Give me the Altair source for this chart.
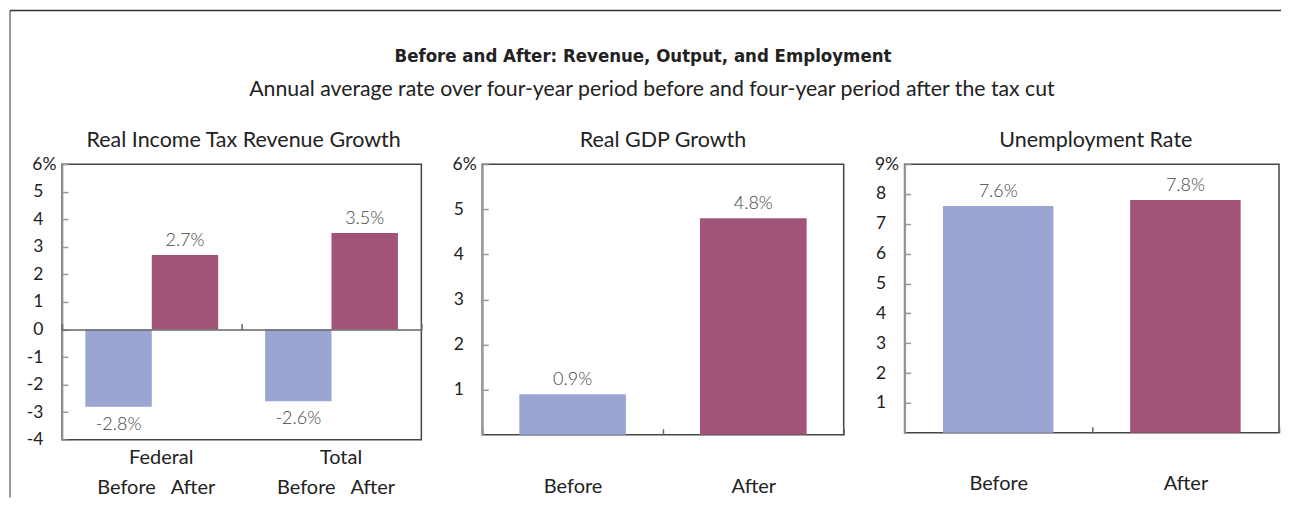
import altair as alt
import pandas as pd

# ---------------- data ----------------
TITLE = "Before and After: Revenue, Output, and Employment"
SUBTITLE = "Annual average rate over four-year period before and four-year period after the tax cut"

PERIODS = ["Before", "After"]
BAR_COLORS = ["#9aa5d1", "#a15478"]

P1_TITLE = "Real Income Tax Revenue Growth"
P1_GROUPS = ["Federal", "Total"]
P1_GROUP = ["Federal", "Federal", "Total", "Total"]
P1_PERIOD = ["Before", "After", "Before", "After"]
P1_VALUES = [-2.8, 2.7, -2.6, 3.5]
P1_TICKS = [-4, -3, -2, -1, 0, 1, 2, 3, 4, 5, 6]
P1_DOMAIN = [-4, 6]

P2_TITLE = "Real GDP Growth"
P2_PERIOD = ["Before", "After"]
P2_VALUES = [0.9, 4.8]
P2_TICKS = [1, 2, 3, 4, 5, 6]
P2_DOMAIN = [0, 6]

P3_TITLE = "Unemployment Rate"
P3_PERIOD = ["Before", "After"]
P3_VALUES = [7.6, 7.8]
P3_TICKS = [1, 2, 3, 4, 5, 6, 7, 8, 9]
P3_DOMAIN = [0, 9]

# ---------------- style / layout ----------------
FONT = "Lato, 'Open Sans', sans-serif"
TITLE_FONT = "'Liberation Sans Narrow', 'DejaVu Sans Condensed', Lato, sans-serif"
TXT = "#222222"
VAL = "#444444"

P1_W, P1_H = 360, 276
P2_W, P2_H = 362, 271
P3_W, P3_H = 375, 269
GAP = 61

LBL = "(datum.rate < 0 ? '-' : '') + format(abs(datum.rate), '.1f') + '%'"


def y_axis(ticks):
    top = max(ticks)
    return alt.Axis(
        values=ticks, title=None, grid=False,
        labelExpr=f"datum.value == {top} ? datum.value + '%' : '' + datum.value",
        labelFont=FONT, labelFontSize=17.5, labelColor=TXT,
        labelPadding={"condition": {"test": f"datum.value == {top}", "value": 12}, "value": 25},
        tickSize={"expr": "-6"}, tickColor="#999999", tickWidth=1.5,
        domainColor="#999999", domainWidth=2,
    )


def title_layer(text, w, dx=0):
    df = pd.DataFrame({"t": [text]})
    return alt.Chart(df).mark_text(
        font=FONT, fontSize=21.5, baseline="alphabetic", color=TXT, dx=dx
    ).encode(x=alt.value(w / 2), y=alt.value(-17), text="t:N")


color = alt.Color("period:N", scale=alt.Scale(domain=PERIODS, range=BAR_COLORS), legend=None)

# ---------------- panel 1 ----------------
df1 = pd.DataFrame({"group": P1_GROUP, "period": P1_PERIOD, "rate": P1_VALUES})
zero_off = -P1_H * (0 - P1_DOMAIN[0]) / (P1_DOMAIN[1] - P1_DOMAIN[0])
x1 = alt.X("group:N", sort=P1_GROUPS,
           scale=alt.Scale(paddingInner=0, paddingOuter=0),
           axis=alt.Axis(title=None, labelAngle=0, offset=zero_off, zindex=1,
                         domainColor="#666666", domainWidth=1.5,
                         tickBand="extent", tickSize={"expr": "-6"}, tickColor="#666666",
                         tickWidth=1.5, labelFont=FONT, labelFontSize=20, labelColor=TXT,
                         labelBaseline="alphabetic", labelPadding=140, labelOffset=9))
xo1 = alt.XOffset("period:N", sort=PERIODS,
                  scale=alt.Scale(paddingInner=0, paddingOuter=0.353))
y1 = alt.Y("rate:Q", scale=alt.Scale(domain=P1_DOMAIN, nice=False, zero=False),
           axis=y_axis(P1_TICKS))

base1 = alt.Chart(df1).transform_calculate(lbl=LBL)
bars1 = base1.mark_bar().encode(x=x1, xOffset=xo1, y=y1, color=color)
pos1 = base1.transform_filter("datum.rate >= 0").mark_text(
    baseline="alphabetic", dy=-9, font=FONT, fontSize=18, fontWeight=300, color=VAL
).encode(x=x1, xOffset=xo1, y=y1, text="lbl:N")
neg1 = base1.transform_filter("datum.rate < 0").mark_text(
    baseline="top", dy=9, font=FONT, fontSize=18, fontWeight=300, color=VAL
).encode(x=x1, xOffset=xo1, y=y1, text="lbl:N")
cat1 = base1.mark_text(
    baseline="alphabetic", dx=8, font=FONT, fontSize=20, color=TXT
).encode(x=x1, xOffset=xo1, y=alt.value(P1_H + 54), text="period:N")

note = pd.DataFrame({"title": [TITLE], "subtitle": [SUBTITLE]})
total_w = P1_W + P2_W + P3_W + 2 * GAP
frame_left = alt.Chart(note).mark_rule(color="#999999", strokeWidth=2).encode(
    x=alt.value(-52), y=alt.value(-154), y2=alt.value(P1_H + 58))
frame_top = alt.Chart(note).mark_rule(color="#333333", strokeWidth=1.5).encode(
    x=alt.value(-52), x2=alt.value(total_w + 2), y=alt.value(-154))
title_txt = alt.Chart(note).mark_text(
    font=TITLE_FONT, fontWeight="bold", fontSize=18.5, baseline="alphabetic", color=TXT
).encode(x=alt.value(582), y=alt.value(-102), text="title:N")
sub_txt = alt.Chart(note).mark_text(
    font=FONT, fontSize=21.3, baseline="alphabetic", color=TXT
).encode(x=alt.value(591), y=alt.value(-68), text="subtitle:N")

p1 = alt.layer(bars1, pos1, neg1, cat1, frame_left, frame_top, title_txt, sub_txt,
               title_layer(P1_TITLE, P1_W, 2)).properties(width=P1_W, height=P1_H)


# ---------------- panels 2 & 3 ----------------
def simple_panel(periods, values, ticks, domain, title, w, h, label_pad, tdx):
    df = pd.DataFrame({"period": periods, "rate": values})
    x = alt.X("period:N", sort=PERIODS,
              scale=alt.Scale(paddingInner=0, paddingOuter=0),
              axis=alt.Axis(title=None, labelAngle=0, domain=False,
                            tickBand="extent", tickSize={"expr": "-6"}, tickColor="#666666",
                            tickWidth=1.5, labelFont=FONT, labelFontSize=20, labelColor=TXT,
                            labelBaseline="alphabetic", labelPadding=label_pad))
    y = alt.Y("rate:Q", scale=alt.Scale(domain=domain, nice=False), axis=y_axis(ticks))
    base = alt.Chart(df).transform_calculate(lbl=LBL)
    bars = base.mark_bar(width=alt.RelativeBandSize(0.59)).encode(x=x, y=y, color=color)
    vals = base.mark_text(baseline="alphabetic", dy=-9, font=FONT, fontSize=18,
                          fontWeight=300, color=VAL).encode(x=x, y=y, text="lbl:N")
    return alt.layer(bars, vals, title_layer(title, w, tdx)).properties(width=w, height=h)


p2 = simple_panel(P2_PERIOD, P2_VALUES, P2_TICKS, P2_DOMAIN, P2_TITLE, P2_W, P2_H, 64, 0)
p3 = simple_panel(P3_PERIOD, P3_VALUES, P3_TICKS, P3_DOMAIN, P3_TITLE, P3_W, P3_H, 63, 4)

chart = alt.hconcat(p1, p2, p3, spacing=GAP, bounds="flush").properties(
    padding={"left": 0, "top": 0, "right": 0, "bottom": 0}
).configure_view(stroke="#444444", strokeWidth=1.5)

chart.save("out.html", embed_options={"renderer": "svg", "actions": False})
